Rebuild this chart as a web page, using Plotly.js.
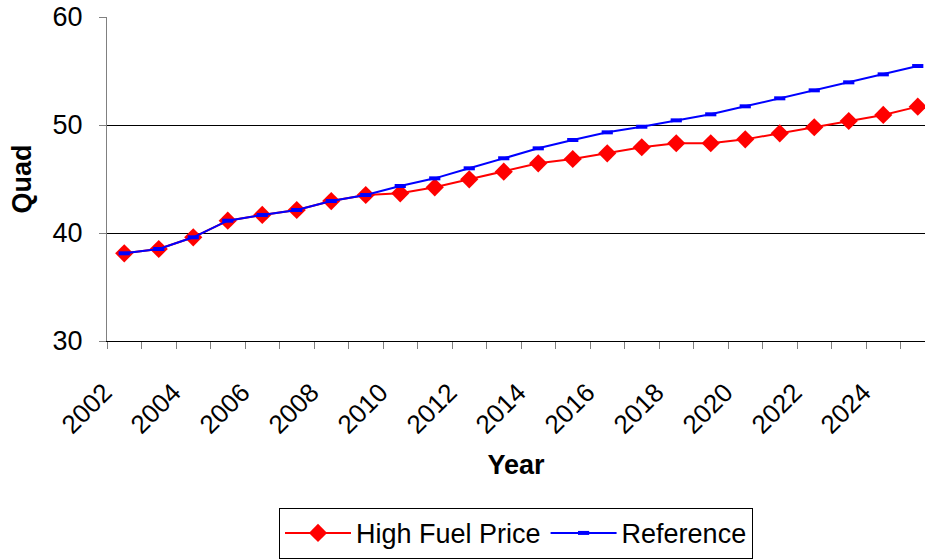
<!DOCTYPE html>
<html>
<head>
<meta charset="utf-8">
<script src="https://cdn.plot.ly/plotly-3.0.1.min.js"></script>
<style>html,body{margin:0;padding:0;background:#fff;}#chart{width:925px;height:560px;}</style>
</head>
<body>
<div id="chart"></div>
<script>
const years = [2002,2003,2004,2005,2006,2007,2008,2009,2010,2011,2012,2013,2014,2015,2016,2017,2018,2019,2020,2021,2022,2023,2024,2025];
const highFuelPrice = [38.12,38.52,39.6,41.14,41.67,42.13,42.96,43.52,43.67,44.23,44.97,45.68,46.45,46.85,47.38,47.94,48.31,48.31,48.67,49.23,49.79,50.37,50.93,51.7];
const reference = [38.12,38.52,39.6,41.14,41.67,42.13,42.96,43.52,44.35,45.06,45.99,46.92,47.84,48.61,49.32,49.84,50.43,50.99,51.73,52.47,53.21,53.95,54.69,55.46];
const tickYears = [2002,2004,2006,2008,2010,2012,2014,2016,2018,2020,2022,2024];

const font = 'Liberation Sans, Arial, sans-serif';
const traces = [
  {x: years, y: highFuelPrice, name: 'High Fuel Price', type: 'scatter', mode: 'lines+markers',
   line: {color: '#FF0000', width: 2}, marker: {symbol: 'diamond', size: 14, color: '#FF0000'}},
  {x: years, y: reference, name: 'Reference', type: 'scatter', mode: 'lines+markers',
   line: {color: '#0000FF', width: 2}, marker: {symbol: 'line-ew', size: 8, color: '#0000FF', line: {color: '#0000FF', width: 4}}}
];
const layout = {
  width: 925, height: 560,
  margin: {l: 107, r: 0, t: 17, b: 219, pad: 0},
  paper_bgcolor: '#fff', plot_bgcolor: '#fff',
  font: {family: font, size: 27, color: '#000'},
  showlegend: true,
  xaxis: {
    range: [2001.5, 2025.21], tickmode: 'array', tickvals: tickYears, ticktext: tickYears.map(String),
    tickangle: -45, ticks: '', showgrid: false, zeroline: false,
    showline: true, linecolor: '#000', linewidth: 1,
    tickfont: {family: font, size: 26, color: '#000'},
    ticklabelshift: -20, ticklabelstandoff: 25,
    minor: {tickmode: 'linear', tick0: 2001.5, dtick: 1, ticks: 'outside', ticklen: 7, tickcolor: '#808080', tickwidth: 1, showgrid: false},
    title: {text: '<b>Year</b>', font: {family: font, size: 27, color: '#000'}, standoff: 16},
    automargin: false
  },
  yaxis: {
    range: [30, 60], tickvals: [30, 40, 50, 60], ticks: 'outside', ticklen: 7, tickcolor: '#808080',
    showgrid: true, gridcolor: '#000', gridwidth: 1, zeroline: false,
    showline: true, linecolor: '#808080', linewidth: 1,
    tickfont: {family: font, size: 27, color: '#000'},
    ticklabelstandoff: 11,
    title: {text: '<b>Quad</b>', font: {family: font, size: 27, color: '#000'}, standoff: 13},
    automargin: false
  },
  legend: {
    orientation: 'h', x: 0.5, xanchor: 'center', yref: 'container', y: 0.002, yanchor: 'bottom',
    bordercolor: '#000', borderwidth: 1, bgcolor: '#fff', itemwidth: 66,
    font: {family: font, size: 27, color: '#000'}
  }
};
Plotly.newPlot('chart', traces, layout, {displayModeBar: false, staticPlot: true});
</script>
</body>
</html>
